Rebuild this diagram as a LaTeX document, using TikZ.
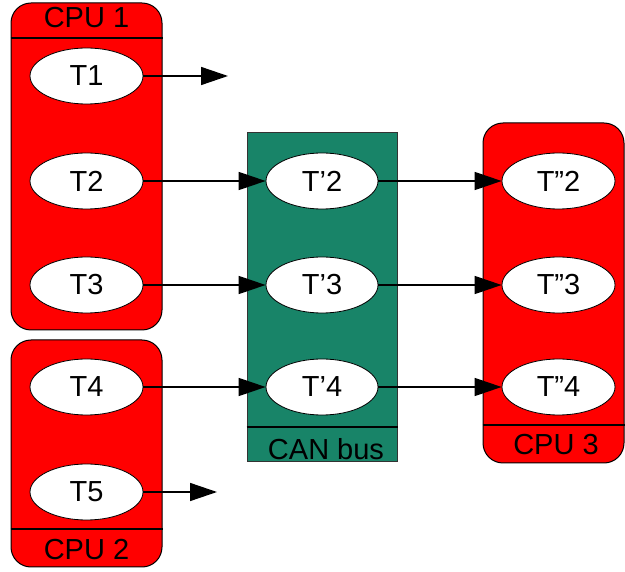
\documentclass[tikz,border=0pt]{standalone}
\usepackage{fontspec}
\setmainfont{Liberation Sans}
\usetikzlibrary{arrows.meta,shapes.geometric}
\definecolor{canteal}{RGB}{24,132,104}
\begin{document}
\begin{tikzpicture}[x=1pt,y=-1pt,
 cpu/.style={draw=black, fill=red, rounded corners=20pt, line width=1pt, inner sep=0},
 bus/.style={draw=black!80, fill=canteal, line width=1pt, inner sep=0},
 task/.style={ellipse, draw=black, fill=white, line width=0.8pt, minimum width=113pt, minimum height=56pt, inner sep=0, font=\fontsize{29}{34}\selectfont},
 lbl/.style={font=\fontsize{29}{34}\selectfont, inner sep=0, anchor=base},
 sep/.style={line width=1.5pt},
 flow/.style={line width=1.5pt, -{Triangle[length=27pt,width=18pt]}}]
\useasboundingbox (0,0) rectangle (625,572);
% containers
\node[cpu, minimum width=151pt, minimum height=327pt] (cpu1) at (86.5,166.5) {};
\node[cpu, minimum width=151pt, minimum height=227pt] (cpu2) at (86.5,453.5) {};
\node[bus, minimum width=150pt, minimum height=329pt] (can) at (322,297.5) {};
\node[cpu, minimum width=141pt, minimum height=340pt] (cpu3) at (553.5,293) {};
\draw[sep] (cpu1.west |- 0,38) -- (cpu1.east |- 0,38);
\draw[sep] (cpu2.west |- 0,529) -- (cpu2.east |- 0,529);
\draw[sep] (can.west |- 0,427) -- (can.east |- 0,427);
\draw[sep] (cpu3.west |- 0,425) -- (cpu3.east |- 0,425);
\node[lbl] (l1) at (86.5,28) {CPU 1};
\node[lbl] (l2) at (86.5,560) {CPU 2};
\node[lbl] (lc) at (326,460) {CAN bus};
\node[lbl] (l3) at (556,455) {CPU 3};
% tasks
\node[task] (t1) at (86.5,76) {T1};
\node[task] (t2) at (86.5,181) {T2};
\node[task] (t3) at (86.5,285) {T3};
\node[task] (t4) at (86.5,387) {T4};
\node[task] (t5) at (86.5,492) {T5};
\node[task, minimum width=112pt] (p2) at (322,181) {T’2};
\node[task, minimum width=112pt] (p3) at (322,285) {T’3};
\node[task, minimum width=112pt] (p4) at (322,387) {T’4};
\node[task] (q2) at (558.5,181) {T”2};
\node[task] (q3) at (558.5,285) {T”3};
\node[task] (q4) at (558.5,387) {T”4};
\coordinate (e1) at (228,76);
\coordinate (e5) at (217,492);
% flows
\draw[flow] (t1) -- (e1);
\draw[flow] (t5) -- (e5);
\draw[flow] (t2) -- (p2);
\draw[flow] (t3) -- (p3);
\draw[flow] (t4) -- (p4);
\draw[flow] (p2) -- (q2);
\draw[flow] (p3) -- (q3);
\draw[flow] (p4) -- (q4);
\end{tikzpicture}
\end{document}
